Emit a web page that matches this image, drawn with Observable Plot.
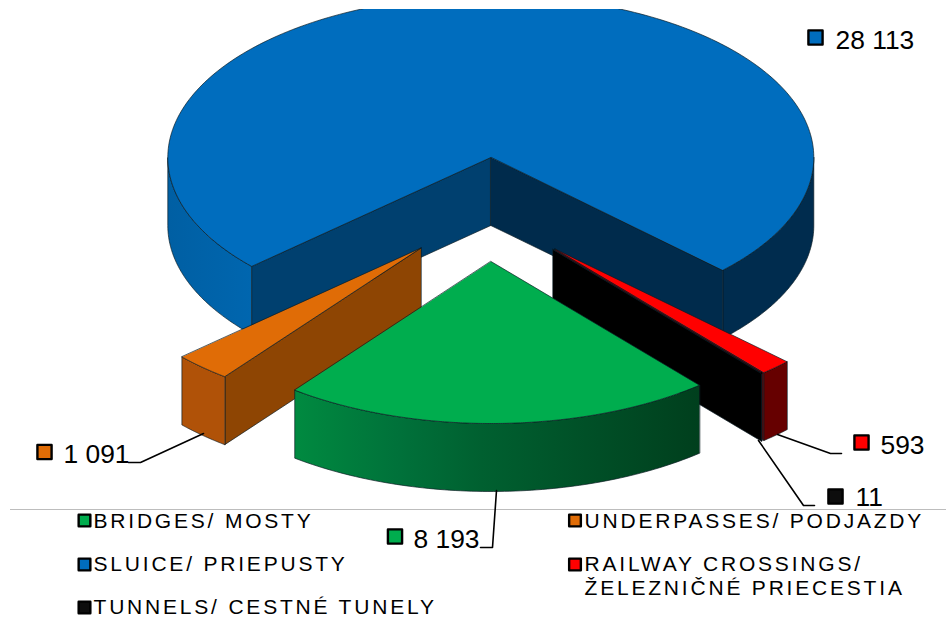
<!DOCTYPE html>
<html>
<head>
<meta charset="utf-8">
<script src="https://cdn.jsdelivr.net/npm/d3@7"></script>
<script src="https://cdn.jsdelivr.net/npm/@observablehq/plot@0.6"></script>
<style>
html,body{margin:0;padding:0;background:#fff;overflow:hidden}
svg{display:block}
g[font-size="21"] text{letter-spacing:2.8px}
</style>
</head>
<body>
<div id="chart"></div>
<script>
// data, in pie order (clockwise)
const categories = ["BRIDGES/ MOSTY","UNDERPASSES/ PODJAZDY","SLUICE/ PRIEPUSTY","RAILWAY CROSSINGS/\nŽELEZNIČNÉ PRIECESTIA","TUNNELS/ CESTNÉ TUNELY"];
const values = [8193,1091,28113,593,11];
const valueLabels = ["8 193","1 091","28 113","593","11"];
const colors = ["#00AD4E","#E06C06","#006DBE","#FF0000","#0D0D0D"];
const topColors = ["#00AD4E","#E06C06","#006DBE","#FF0000","#000000"];

// layout
const rx = 323, ry = 162, depth = 68;
const startAngle = 139.8 * Math.PI / 180;
const hubX = [490.5,420.5,490.3,554.5,552.5];
const hubY = [261,247.5,157,248.5,249];
const labelX = [413,63,835,880,855];
const labelY = [547,462,48,453,505];
const keyX = [394.5,44,815,861,835];
const keyY = [536,451.5,37,442,496];
const legendX = [93,584,93,584,93];
const legendY = [527.5,527.5,570.5,570.5,613];
const legendKeyX = [84,574.5,84,574.5,84];
const legendKeyY = [520,520,564,564,607];
const secondLineY = 594.5;
const leaders = [
  [[480,547],[492,547],[496,490]],
  [[128,462],[140,462],[203,433]],
  [[841,453],[830,453],[777,434]],
  [[814,505],[803,505],[758,440]]
];

const arcs = d3.pie().sort(null).startAngle(startAngle).endAngle(startAngle + 2*Math.PI)(values);
const deg = Math.PI/180;
const pt = (i,a,dz=0) => [hubX[i] + rx*Math.sin(a), hubY[i] - ry*Math.cos(a) + dz];
const hub = (i,dz=0) => [hubX[i], hubY[i] + dz];
const sweep = (i,a0,a1,dz=0,n=80) => d3.range(n+1).map(k => pt(i, a0 + (a1-a0)*k/n, dz));
const EDGE = "#0b1a22";
const poly = (pts, fill, o={}) => Plot.line(pts, {x:d=>d[0], y:d=>d[1], curve:"linear-closed", fill, stroke:EDGE, strokeWidth:0.8, strokeOpacity:0.85, ...o});
const topFace = (i,o) => poly([hub(i), ...sweep(i,arcs[i].startAngle,arcs[i].endAngle,0,240)], topColors[i], o);
const cutFace = (i,a,fill,o) => poly([hub(i),pt(i,a),pt(i,a,depth),hub(i,depth)], fill, o);
const rim = (i,a0,a1,fill,o) => poly([...sweep(i,a0,a1), ...sweep(i,a0,a1,depth).reverse()], fill, o);

const [G,O,B,R,T] = [0,1,2,3,4];
const clip = {clip:true};

// side-wall shading ramps
const ns = "http://www.w3.org/2000/svg";
const ramp = (id, x1, x2, stops) => {
  const g = document.createElementNS(ns,"linearGradient");
  g.setAttribute("id",id); g.setAttribute("gradientUnits","userSpaceOnUse");
  g.setAttribute("x1",x1); g.setAttribute("x2",x2); g.setAttribute("y1",0); g.setAttribute("y2",0);
  stops.forEach(([o,c]) => { const s = document.createElementNS(ns,"stop"); s.setAttribute("offset",o); s.setAttribute("stop-color",c); g.append(s); });
  return g;
};
const gradients = () => {
  const defs = document.createElementNS(ns,"defs");
  defs.append(
    ramp("greenSide",294,700,[[0,"#008A40"],[0.26,"#00713A"],[0.46,"#006030"],[0.75,"#004E26"],[1,"#003F1D"]]),
    ramp("blueSide",168,251,[[0,"#005FA3"],[1,"#0066AF"]])
  );
  return defs;
};

const marks = [
  gradients,
  // sluice
  rim(B, arcs[B].startAngle, 270*deg, "url(#blueSide)"),
  rim(B, 450*deg, arcs[B].endAngle, "#002C4E"),
  cutFace(B, arcs[B].startAngle, "#00406F"),
  cutFace(B, arcs[B].endAngle, "#002B4C"),
  topFace(B, clip),
  // underpasses
  cutFace(O, arcs[O].startAngle, "#8E4503"),
  rim(O, arcs[O].startAngle, arcs[O].endAngle, "#B05208"),
  topFace(O),
  // railway crossings
  cutFace(R, arcs[R].endAngle, "#7A0000"),
  rim(R, arcs[R].startAngle, arcs[R].endAngle, "#660000"),
  topFace(R),
  // tunnels
  cutFace(T, arcs[T].endAngle, "#000000"),
  rim(T, arcs[T].startAngle, arcs[T].endAngle, "#000000"),
  topFace(T),
  // bridges
  rim(G, arcs[G].startAngle, arcs[G].endAngle, "url(#greenSide)"),
  topFace(G),
  // separator
  Plot.ruleY([509], {x1:10, x2:946, stroke:"#BDBDBD", strokeWidth:1}),
  // leader lines
  ...leaders.map(l => Plot.line(l, {x:d=>d[0], y:d=>d[1], stroke:"#000", strokeWidth:1.6})),
  // value keys and labels
  Plot.dot(values, {x:(d,i)=>keyX[i], y:(d,i)=>keyY[i], symbol:"square", r:8, fill:(d,i)=>colors[i], stroke:"#000", strokeWidth:2.4, strokeLinejoin:"round"}),
  Plot.text(valueLabels, {x:(d,i)=>labelX[i], y:(d,i)=>labelY[i], text:d=>d, textAnchor:"start", lineAnchor:"bottom", fontSize:26.4, fontFamily:"Liberation Sans", fill:"#000"}),
  // legend
  Plot.dot(categories, {x:(d,i)=>legendKeyX[i], y:(d,i)=>legendKeyY[i], symbol:"square", r:6.6, fill:(d,i)=>colors[i], stroke:"#000", strokeWidth:2.4, strokeLinejoin:"round"}),
  Plot.text(categories, {x:(d,i)=>legendX[i], y:(d,i)=>legendY[i], text:d=>d.split("\n")[0], textAnchor:"start", lineAnchor:"bottom", fontSize:21, fontFamily:"Liberation Sans", fill:"#000"}),
  Plot.text(categories.filter(d=>d.includes("\n")), {x:legendX[3], y:secondLineY, text:d=>d.split("\n")[1], textAnchor:"start", lineAnchor:"bottom", fontSize:21, fontFamily:"Liberation Sans", fill:"#000"})
];

const plot = Plot.plot({
  width:946, height:617,
  marginTop:9, marginBottom:0, marginLeft:0, marginRight:0,
  x:{domain:[0,946], range:[0,946], axis:null},
  y:{domain:[9,617], range:[9,617], axis:null},
  style:{background:"#fff", overflow:"visible"},
  marks
});
document.getElementById("chart").append(plot);
</script>
</body>
</html>
